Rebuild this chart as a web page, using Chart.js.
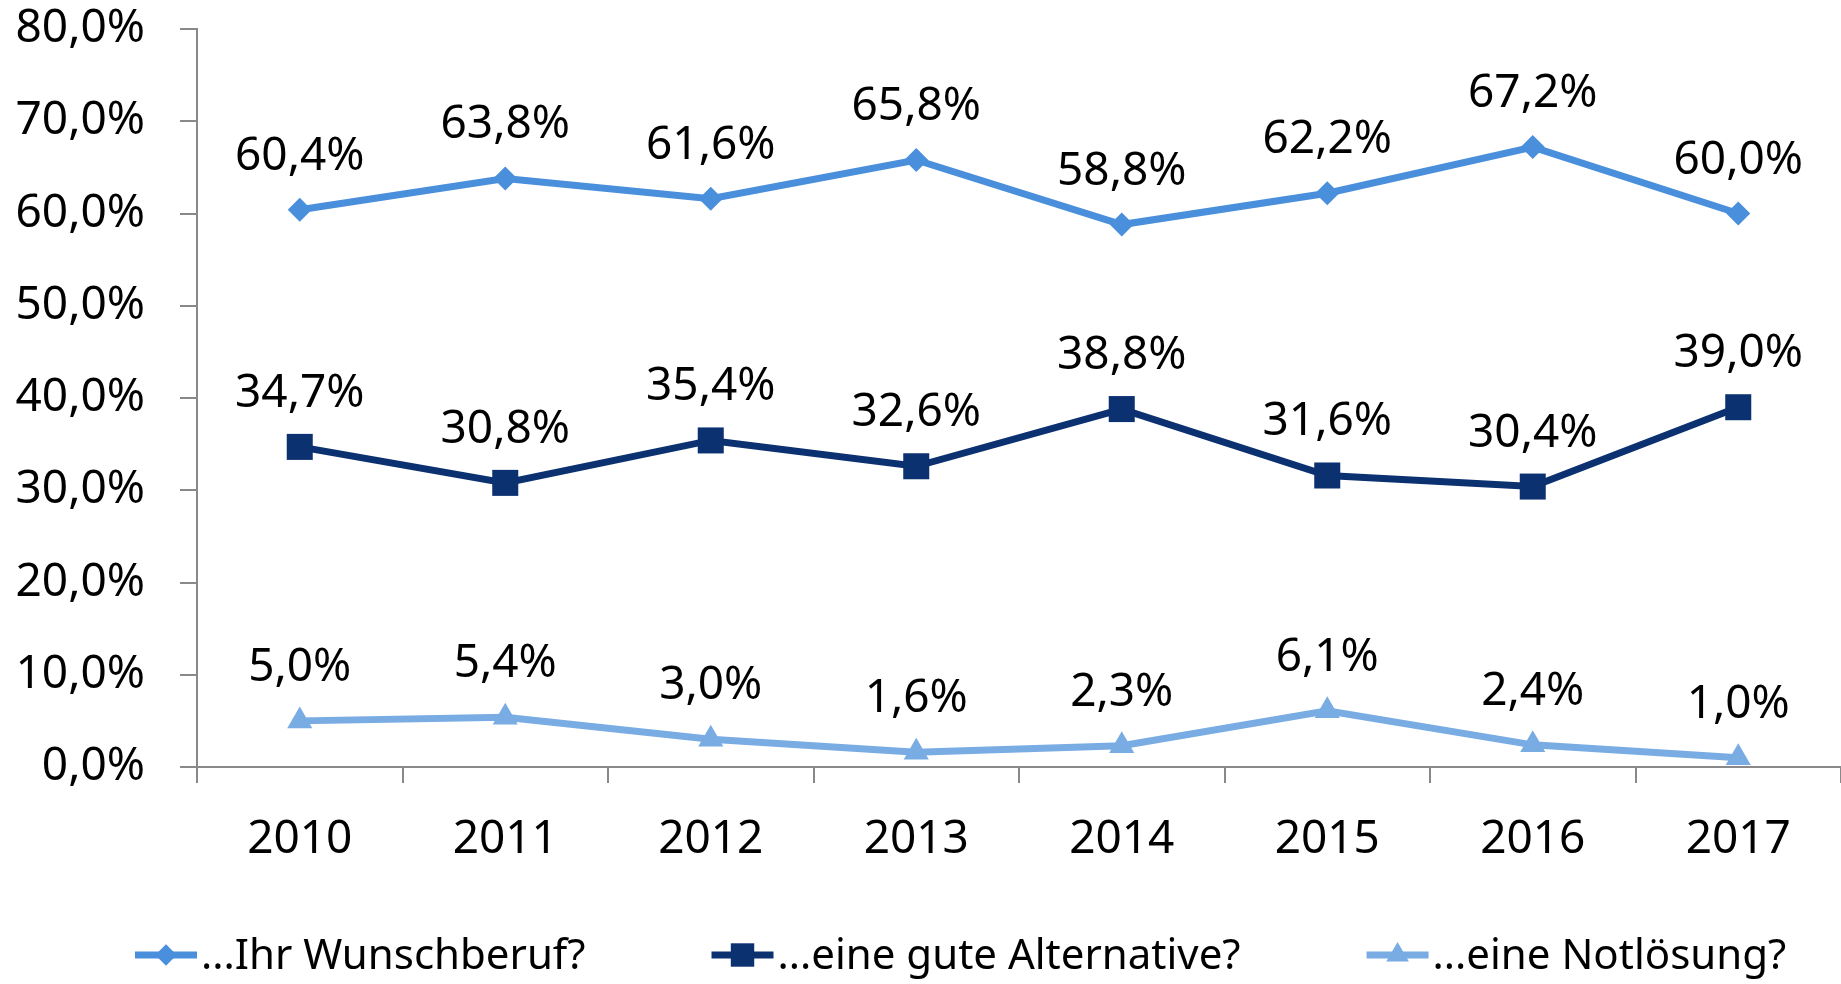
<!DOCTYPE html>
<html><head><meta charset="utf-8">
<script src="https://cdn.jsdelivr.net/npm/chart.js@4.4.0/dist/chart.umd.min.js"></script>
<style>html,body{margin:0;padding:0;background:#fff;overflow:hidden}#wrap{width:1841px;height:984px}</style>
</head><body><div id="wrap"><canvas id="c" width="1841" height="984"></canvas></div>
<script>
const categories = ['2010', '2011', '2012', '2013', '2014', '2015', '2016', '2017'];
const wunschberuf = [60.4, 63.8, 61.6, 65.8, 58.8, 62.2, 67.2, 60.0];
const alternative = [34.7, 30.8, 35.4, 32.6, 38.8, 31.6, 30.4, 39.0];
const notloesung = [5.0, 5.4, 3.0, 1.6, 2.3, 6.1, 2.4, 1.0];
const yTickValues = [0, 10, 20, 30, 40, 50, 60, 70, 80];
const seriesLabels = ['...Ihr Wunschberuf?', '...eine gute Alternative?', '...eine Notlösung?'];
const seriesColors = ['#4A8FDB', '#0B3170', '#79ACE3'];
const seriesStyles = ['rectRot', 'rect', 'triangle'];
const seriesRadius = [12, 18.4, 14.5];

const FONT = '"Noto Sans", "Open Sans", sans-serif';
const fmt = v => v.toFixed(1).replace('.', ',') + '%';

const seriesData = [wunschberuf, alternative, notloesung];
const datasets = seriesData.map((d, i) => ({
  label: seriesLabels[i],
  data: d,
  borderColor: seriesColors[i],
  backgroundColor: seriesColors[i],
  borderWidth: 7,
  tension: 0,
  pointStyle: seriesStyles[i],
  pointRadius: seriesRadius[i],
  pointHoverRadius: seriesRadius[i],
  pointBorderWidth: 0,
  pointBackgroundColor: seriesColors[i],
  clip: false
}));

const dataLabelPlugin = {
  id: 'dataLabels',
  afterDatasetsDraw(chart) {
    const ctx = chart.ctx;
    ctx.save();
    ctx.font = '46px ' + FONT;
    ctx.fillStyle = '#000';
    ctx.textAlign = 'center';
    ctx.textBaseline = 'alphabetic';
    chart.data.datasets.forEach((ds, i) => {
      const meta = chart.getDatasetMeta(i);
      meta.data.forEach((el, j) => {
        ctx.fillText(fmt(ds.data[j]), el.x, el.y - 40);
      });
    });
    ctx.restore();
  }
};

const legendPlugin = {
  id: 'customLegend',
  afterDraw(chart) {
    const ctx = chart.ctx;
    ctx.save();
    ctx.font = '42px ' + FONT;
    const lineLen = 62, gap = 4, spacing = 126;
    const widths = chart.data.datasets.map(ds => ctx.measureText(ds.label).width);
    let x = 135;
    const y = 955;
    chart.data.datasets.forEach((ds, i) => {
      ctx.strokeStyle = ds.borderColor;
      ctx.lineWidth = 7;
      ctx.beginPath();
      ctx.moveTo(x, y);
      ctx.lineTo(x + lineLen, y);
      ctx.stroke();
      ctx.fillStyle = ds.backgroundColor;
      Chart.helpers.drawPoint(ctx, {pointStyle: ds.pointStyle, radius: ds.pointRadius * 0.9, rotation: 0, borderWidth: 0}, x + lineLen / 2, y);
      ctx.fillStyle = '#000';
      ctx.textAlign = 'left';
      ctx.textBaseline = 'middle';
      ctx.fillText(ds.label, x + lineLen + gap, y + 2);
      x += lineLen + gap + widths[i] + spacing;
    });
    ctx.restore();
  }
};

new Chart(document.getElementById('c'), {
  type: 'line',
  data: { labels: categories, datasets },
  options: {
    responsive: false,
    devicePixelRatio: 1,
    animation: false,
    layout: { autoPadding: false, padding: { top: 29, right: 0, bottom: 100, left: 0 } },
    plugins: { legend: { display: false }, tooltip: { enabled: false } },
    scales: {
      x: {
        type: 'category',
        offset: true,
        grid: { offset: true, drawOnChartArea: false, drawTicks: true, tickLength: 16, color: '#898989', lineWidth: 2 },
        border: { display: true, color: '#898989', width: 2 },
        ticks: { font: { family: FONT, size: 46 }, color: '#000', padding: 29, maxRotation: 0 },
        afterFit: s => { s.height = 117; s.paddingLeft = 0; s.paddingRight = 0; }
      },
      y: {
        min: 0, max: 80,
        afterBuildTicks: s => { s.ticks = yTickValues.map(v => ({ value: v })); },
        grid: { drawOnChartArea: false, drawTicks: true, tickLength: 17, color: '#898989', lineWidth: 2 },
        border: { display: true, color: '#898989', width: 2 },
        ticks: { font: { family: FONT, size: 46 }, color: '#000', padding: 35, callback: v => fmt(v) },
        afterFit: s => { s.width = 197; s.paddingTop = 0; s.paddingBottom = 0; }
      }
    }
  },
  plugins: [dataLabelPlugin, legendPlugin]
});
</script>
</body></html>
